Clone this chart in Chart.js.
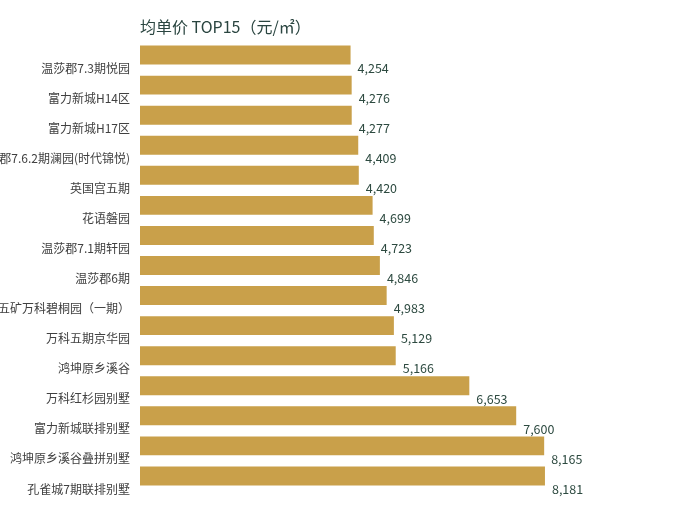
<!DOCTYPE html>
<html><head><meta charset="utf-8">
<script src="https://cdn.jsdelivr.net/npm/chart.js@4"></script>
<style>html,body{margin:0;padding:0;background:#fff}#wrap{position:relative;width:680px;height:520px}</style>
</head><body>
<div id="wrap"><canvas id="c" width="680" height="520"></canvas></div>
<script>
const categories = ["温莎郡7.3期悦园","富力新城H14区","富力新城H17区","温莎郡7.6.2期澜园(时代锦悦)","英国宫五期","花语磐园","温莎郡7.1期轩园","温莎郡6期","五矿万科碧桐园（一期）","万科五期京华园","鸿坤原乡溪谷","万科红杉园别墅","富力新城联排别墅","鸿坤原乡溪谷叠拼别墅","孔雀城7期联排别墅"];
const values = [4254,4276,4277,4409,4420,4699,4723,4846,4983,5129,5166,6653,7600,8165,8181];
const titleText = "均单价 TOP15（元/㎡）";
const FONT = "'Noto Sans CJK SC','Noto Sans',sans-serif";

const labelPlugin = {
  id:'vals',
  afterDatasetsDraw(chart){
    const ctx = chart.ctx;
    const meta = chart.getDatasetMeta(0);
    ctx.save();
    ctx.font = "12.5px " + FONT;
    ctx.fillStyle = "#2d4a40";
    ctx.textAlign = "left";
    ctx.textBaseline = "middle";
    meta.data.forEach((bar,i)=>{
      ctx.fillText(values[i].toLocaleString('en-US'), bar.x + 7, bar.y + 13);
    });
    ctx.font = "16px " + FONT;
    ctx.fillStyle = "#2a4540";
    ctx.fillText(titleText, chart.chartArea.left, 27);
    ctx.restore();
  }
};

new Chart(document.getElementById('c'), {
  type:'bar',
  data:{labels:categories, datasets:[{data:values, backgroundColor:'#C9A04A', barPercentage:0.63, categoryPercentage:1}]},
  options:{
    indexAxis:'y', responsive:false, animation:false,
    layout:{padding:{left:0,right:45,top:40,bottom:29}},
    plugins:{ legend:{display:false}, tooltip:{enabled:false}, title:{display:false} },
    scales:{
      x:{display:false, min:0, max:10000},
      y:{
        grid:{display:false, drawTicks:false}, border:{display:false},
        ticks:{color:'#404040', font:{family:FONT,size:12}, padding:10, labelOffset:13},
        afterFit(s){ s.width = 140; }
      }
    }
  },
  plugins:[labelPlugin]
});
</script>
</body></html>
